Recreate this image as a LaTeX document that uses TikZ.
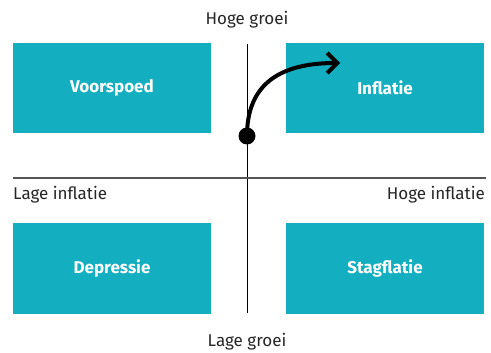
\documentclass[tikz,border=0pt]{standalone}
\usepackage{fontspec}
\setmainfont{Fira Sans}
\usetikzlibrary{arrows.meta}
\definecolor{quad}{HTML}{13AFC0}
\definecolor{axisgray}{HTML}{555555}
\tikzset{
  quadbox/.style={fill=quad, draw=none, minimum width=198pt, minimum height=90pt,
    inner sep=0pt, text=white, font=\fontsize{17}{20}\selectfont\bfseries},
  axislabel/.style={font=\fontsize{17}{20}\selectfont, text=black!85, inner sep=0pt},
  trend/.style={line width=4pt, -{Straight Barb[length=10pt,width=20pt,line width=4pt]}}
}
\begin{document}
\begin{tikzpicture}[x=1pt,y=-1pt]
  \useasboundingbox (0,0) rectangle (491,353);
  % quadrants
  \node[quadbox] (voorspoed) at (112,88) {Voorspoed};
  \node[quadbox] (inflatie) at (385,88) {Inflatie};
  \node[quadbox] (depressie) at (112,268.5) {Depressie};
  \node[quadbox] (stagflatie) at (385,268.5) {Stagflatie};
  % axes
  \coordinate (ytop) at (247,44);
  \coordinate (ybot) at (247,313);
  \coordinate (xl) at (13,178);
  \coordinate (xr) at (486,178);
  \draw[line width=1pt] (ytop) -- (ybot);
  \draw[axisgray, line width=1.5pt] (xl) -- (xr);
  % axis labels
  \node[axislabel] (hg) at (247,20) {Hoge groei};
  \node[axislabel] (lg) at (247,342) {Lage groei};
  \node[axislabel, anchor=west] (li) at (13,195) {Lage inflatie};
  \node[axislabel, anchor=east] (hi) at (485,195) {Hoge inflatie};
  % movement from the origin point into the inflation quadrant
  \node[circle, fill=black, minimum size=17pt, inner sep=0pt] (start) at (247,136) {};
  \coordinate (tip) at (340,63);
  \draw[trend] (start.center) .. controls (247,88) and (275,63) .. (tip);
\end{tikzpicture}
\end{document}
